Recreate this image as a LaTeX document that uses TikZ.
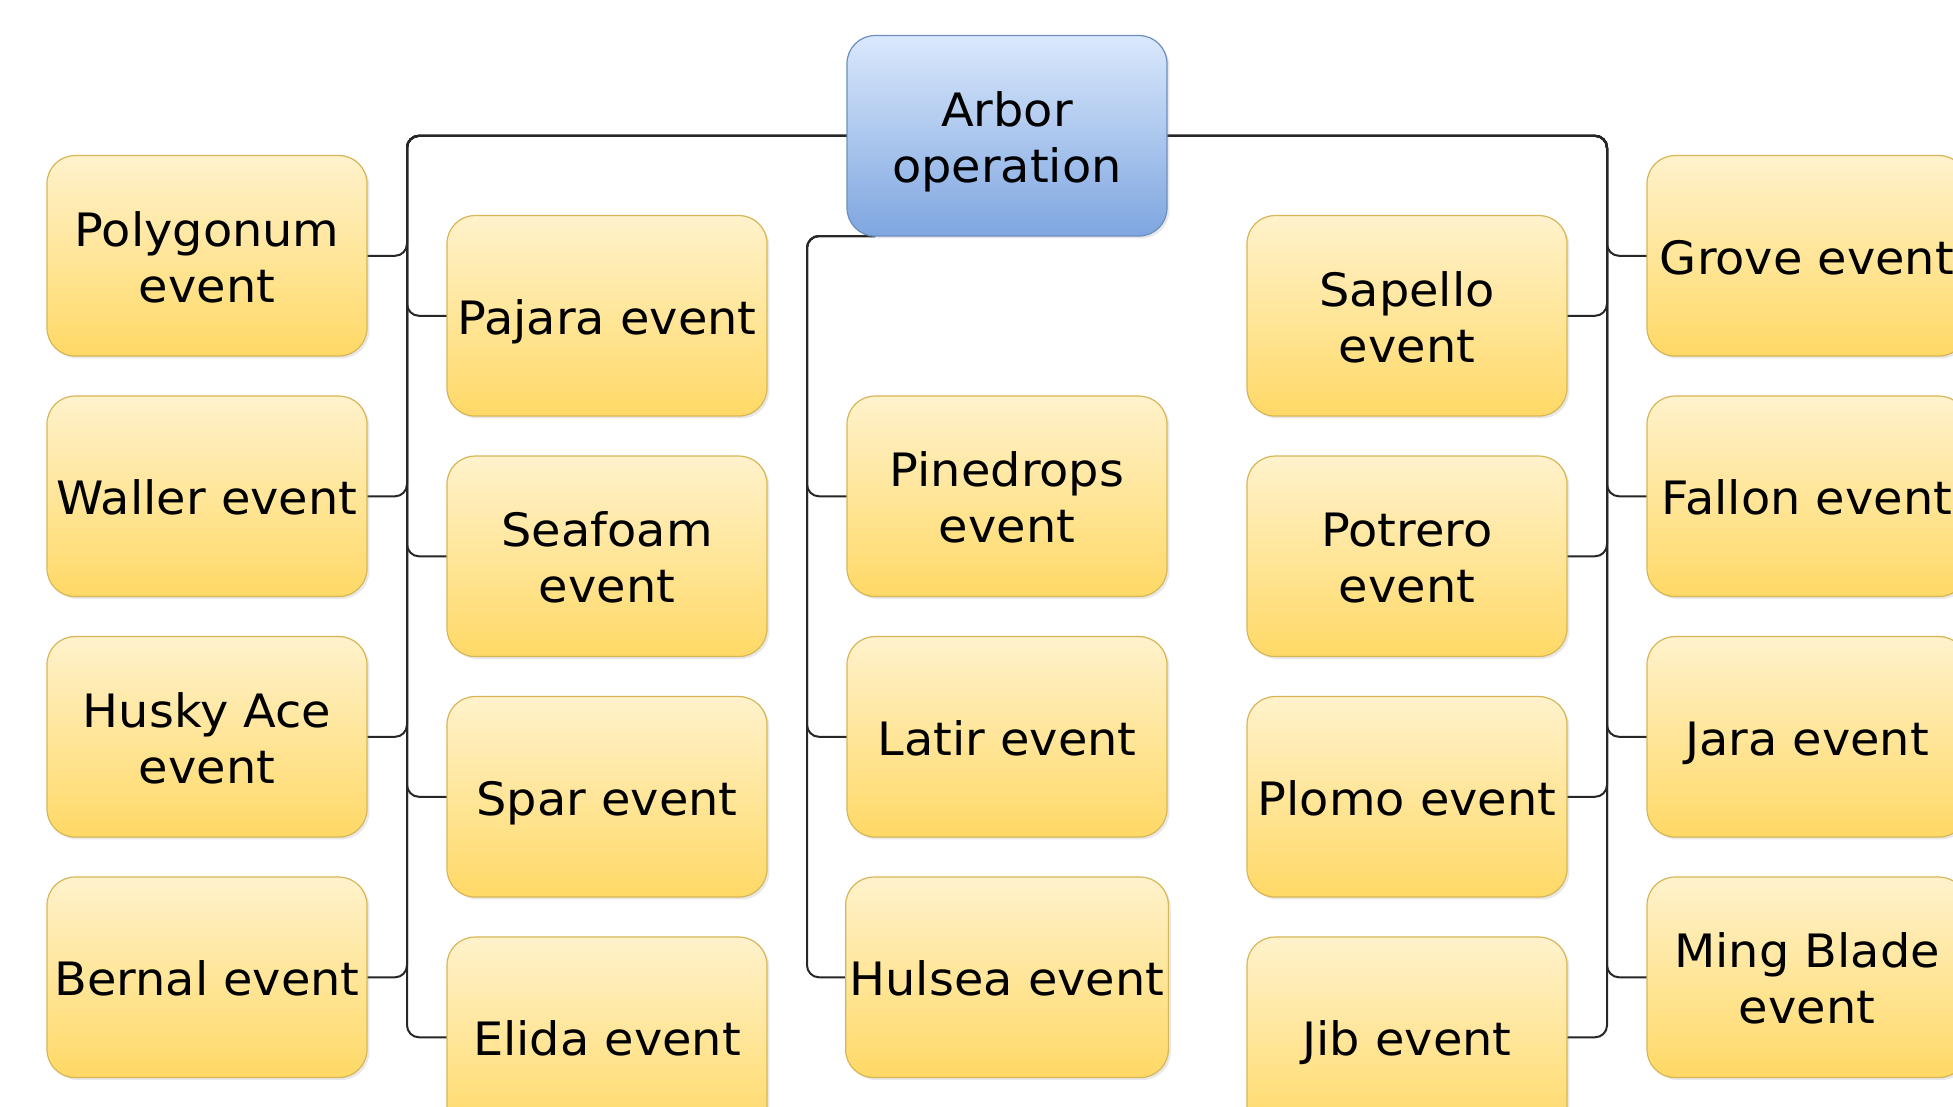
\documentclass[tikz,border=0pt]{standalone}
\usepackage{fontspec}
\setmainfont{DejaVu Sans}[FakeStretch=1.04]
\usepackage{xcolor}
\usetikzlibrary{positioning,backgrounds,shadows}
\definecolor{evtop}{HTML}{FFF2CC}
\definecolor{evbot}{HTML}{FFD966}
\definecolor{evline}{HTML}{D6B656}
\definecolor{optop}{HTML}{DAE8FC}
\definecolor{opbot}{HTML}{7EA6E0}
\definecolor{opline}{HTML}{6C8EBF}
\newcommand{\evfont}{\fontsize{23}{28}\selectfont}

\begin{document}
\begin{tikzpicture}[
  node distance=20pt and 40pt,
  ev/.style={draw=evline, line width=0.6pt, rounded corners=14pt, align=center, font=\evfont, minimum width=160pt, minimum height=100.25pt, inner sep=2pt, outer sep=0pt, top color=evtop, bottom color=evbot, drop shadow={opacity=0.18, shadow xshift=1.2pt, shadow yshift=-1.2pt},
    execute at begin node={\rule{0pt}{23.3pt}}, execute at end node={\rule[-4.7pt]{0pt}{4.7pt}}},
  evtwo/.style={ev, execute at begin node={\rule{0pt}{51.3pt}}},
  op/.style={evtwo, draw=opline, top color=optop, bottom color=opbot},
  link/.style={draw=black!85, line width=1pt, rounded corners=6pt}]
  \useasboundingbox (0,0) rectangle (976.5pt,-553.5pt);
  \node[op] (arb) at (503.5pt,-67.9pt) {Arbor\\operation};
  % middle column
  \node[evtwo, below=80pt of arb] (pin) {Pinedrops\\event};
  \node[ev, below=of pin] (lat) {Latir event};
  \node[ev, below=of lat] (hul) {Hulsea event};
  % left side
  \node[evtwo, left=of pin, yshift=-30pt] (sea) {Seafoam\\event};
  \node[ev, above=of sea] (paj) {Pajara event};
  \node[ev, below=of sea] (spa) {Spar event};
  \node[ev, below=of spa] (eli) {Elida event};
  \node[ev, left=of sea, yshift=30pt] (wal) {Waller event};
  \node[evtwo, above=of wal] (pol) {Polygonum\\event};
  \node[evtwo, below=of wal] (hus) {Husky Ace\\event};
  \node[ev, below=of hus] (ber) {Bernal event};
  % right side
  \node[evtwo, right=of pin, yshift=-30pt] (pot) {Potrero\\event};
  \node[evtwo, above=of pot] (sap) {Sapello\\event};
  \node[ev, below=of pot] (plo) {Plomo event};
  \node[ev, below=of plo] (jib) {Jib event};
  \node[ev, right=of pot, yshift=30pt] (fal) {Fallon event};
  \node[ev, above=of fal] (gro) {Grove event};
  \node[ev, below=of fal] (jar) {Jara event};
  \node[evtwo, below=of jar] (min) {Ming Blade\\event};
  \coordinate (lx) at ([xshift=-20pt]paj.west);
  \coordinate (cx) at ([xshift=-20pt]pin.west);
  \coordinate (rx) at ([xshift=20pt]sap.east);
  \begin{scope}[on background layer]
    \draw[link] (arb.west) -| (lx |- pol.east) -- (pol.east);
    \draw[link] (arb.west) -| (lx |- wal.east) -- (wal.east);
    \draw[link] (arb.west) -| (lx |- hus.east) -- (hus.east);
    \draw[link] (arb.west) -| (lx |- ber.east) -- (ber.east);
    \draw[link] (arb.west) -| (lx |- paj.west) -- (paj.west);
    \draw[link] (arb.west) -| (lx |- sea.west) -- (sea.west);
    \draw[link] (arb.west) -| (lx |- spa.west) -- (spa.west);
    \draw[link] (arb.west) -| (lx |- eli.west) -- (eli.west);
    \draw[link] ([xshift=14pt]arb.south west) -| (cx |- pin.west) -- (pin.west);
    \draw[link] ([xshift=14pt]arb.south west) -| (cx |- lat.west) -- (lat.west);
    \draw[link] ([xshift=14pt]arb.south west) -| (cx |- hul.west) -- (hul.west);
    \draw[link] (arb.east) -| (rx |- sap.east) -- (sap.east);
    \draw[link] (arb.east) -| (rx |- pot.east) -- (pot.east);
    \draw[link] (arb.east) -| (rx |- plo.east) -- (plo.east);
    \draw[link] (arb.east) -| (rx |- jib.east) -- (jib.east);
    \draw[link] (arb.east) -| (rx |- gro.west) -- (gro.west);
    \draw[link] (arb.east) -| (rx |- fal.west) -- (fal.west);
    \draw[link] (arb.east) -| (rx |- jar.west) -- (jar.west);
    \draw[link] (arb.east) -| (rx |- min.west) -- (min.west);
  \end{scope}
\end{tikzpicture}
\end{document}
